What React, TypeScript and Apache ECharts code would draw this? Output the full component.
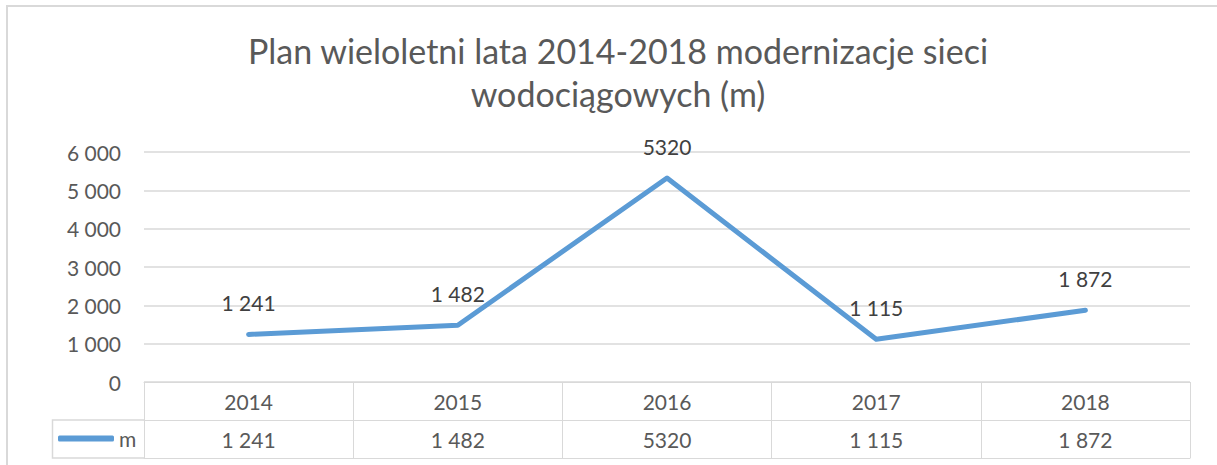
import React, { useEffect, useRef } from "react";
import * as echarts from "echarts";

const categories = ["2014", "2015", "2016", "2017", "2018"];
const values = [1241, 1482, 5320, 1115, 1872];
const valueLabels = ["1 241", "1 482", "5320", "1 115", "1 872"];
const yTickLabels = ["0", "1 000", "2 000", "3 000", "4 000", "5 000", "6 000"];
const seriesName = "m";
const titleText = "Plan wieloletni lata 2014-2018 modernizacje sieci\nwodociągowych (m)";

const FONT = "Lato";
const TEXT = "#595959";
const GRID = "#D9D9D9";
const LINE = "#5B9BD5";

export default function App() {
  const ref = useRef<HTMLDivElement>(null);
  useEffect(() => {
    if (!ref.current) return;
    const chart = echarts.init(ref.current, null, { renderer: "svg" });
    const tableAxisBase = {
      type: "category" as const,
      gridIndex: 0,
      position: "bottom" as const,
      data: categories,
      axisTick: { show: false },
      axisLine: { show: true, lineStyle: { color: GRID, width: 1 } },
    };
    chart.setOption({
      animation: false,
      title: {
        text: titleText,
        left: 613,
        top: 24,
        textAlign: "center",
        textStyle: {
          fontFamily: FONT,
          fontSize: 34,
          fontWeight: 400,
          color: TEXT,
          lineHeight: 43,
        },
      },
      legend: {
        left: 58,
        top: 428,
        padding: 0,
        itemWidth: 56,
        itemHeight: 6,
        itemGap: 4,
        icon: "roundRect",
        itemStyle: { color: LINE, opacity: 1 },
        textStyle: { fontFamily: FONT, fontSize: 21, color: TEXT },
        data: [seriesName],
      },
      grid: { left: 144, right: 27, top: 152, bottom: 83, containLabel: false },
      xAxis: [
        {
          ...tableAxisBase,
          axisTick: { show: true, length: 76, lineStyle: { color: GRID, width: 1 } },
          axisLabel: { margin: 9, fontFamily: FONT, fontSize: 21, color: TEXT },
        },
        {
          ...tableAxisBase,
          offset: 38,
          axisLabel: {
            margin: 9,
            fontFamily: FONT,
            fontSize: 21,
            color: TEXT,
            formatter: (_v: string, i: number) => valueLabels[i],
          },
        },
        {
          ...tableAxisBase,
          offset: 76,
          axisLabel: { show: false },
        },
      ],
      yAxis: {
        type: "value",
        min: 0,
        max: 6000,
        interval: 1000,
        axisLine: { show: false },
        axisTick: { show: false },
        splitLine: { lineStyle: { color: GRID, width: 1.5 } },
        axisLabel: {
          margin: 23,
          fontFamily: FONT,
          fontSize: 21,
          color: TEXT,
          formatter: (v: number) => yTickLabels[Math.round(v / 1000)],
        },
      },
      series: [
        {
          name: seriesName,
          type: "line",
          xAxisIndex: 0,
          data: values,
          symbol: "circle",
          symbolSize: 1,
          showSymbol: true,
          lineStyle: { color: LINE, width: 5, cap: "round", join: "round" },
          itemStyle: { color: LINE, opacity: 0 },
          label: {
            show: true,
            position: "top",
            distance: 21,
            fontFamily: FONT,
            fontSize: 21,
            color: "#404040",
            opacity: 1,
            formatter: (p: any) => valueLabels[p.dataIndex],
          },
        },
      ],
      graphic: [
        {
          type: "rect",
          silent: true,
          shape: { x: 7, y: 6, width: 1400, height: 700 },
          style: { fill: "none", stroke: GRID, lineWidth: 2 },
        },
        {
          type: "polyline",
          silent: true,
          shape: { points: [[144, 420], [52.5, 420], [52.5, 458], [144, 458]] },
          style: { fill: "none", stroke: GRID, lineWidth: 1.5 },
        },
      ],
    });
    return () => chart.dispose();
  }, []);
  return (
    <div
      ref={ref}
      style={{ position: "fixed", left: 0, top: 0, width: 1217, height: 465, background: "#fff" }}
    />
  );
}
